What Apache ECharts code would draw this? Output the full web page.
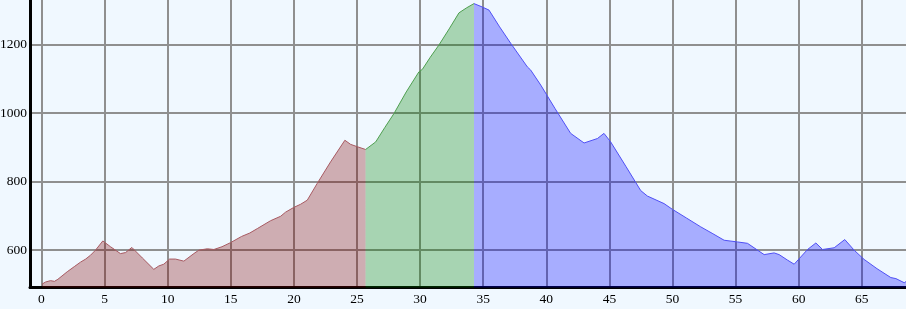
<!DOCTYPE html>
<html>
<head>
<meta charset="utf-8">
<script src="https://cdn.jsdelivr.net/npm/echarts@6/dist/echarts.min.js"></script>
<style>
html,body{margin:0;padding:0;background:#f0f8ff;}
#c{width:906px;height:309px;}
</style>
</head>
<body>
<div id="c"></div>
<script>
// Distance (km) and elevation (m) for each coloured segment
var redKm   = [0.05, 0.32, 0.71, 1.03, 1.3, 2.04, 2.6, 3.09, 3.5, 3.88, 4.28, 4.86, 5.47, 6.26, 6.66, 7.16, 8.0, 8.90, 9.30, 9.69, 10.15, 10.62, 11.28, 12.07, 12.47, 13.14, 13.66, 14.3, 14.98, 15.85, 16.5, 17.10, 18.15, 18.95, 19.34, 20.0, 20.53, 21.06, 21.85, 22.91, 24.04, 24.49, 25.03, 25.68];
var redElev = [501, 507, 511, 509, 515, 537, 552, 565, 574, 585, 600, 627, 610, 590, 593, 608, 577, 544, 554, 559, 574, 574, 568, 590, 600, 604, 602, 610, 622, 640, 650, 663, 686, 699, 711, 725, 734, 746, 795, 858, 921, 909, 902, 894];
var greenKm   = [25.68, 26.48, 27.2, 27.93, 28.9, 29.91, 30.18, 30.8, 31.49, 32.3, 33.08, 33.7, 34.27];
var greenElev = [894, 916, 958, 999, 1062, 1121, 1128, 1163, 1199, 1246, 1293, 1308, 1320];
var blueKm   = [34.27, 34.93, 35.46, 36.3, 37.18, 38.5, 38.76, 39.56, 40.7, 41.93, 42.99, 44.05, 44.57, 45.1, 46.3, 47.48, 48.01, 49.33, 50.0, 51.1, 52.24, 53.2, 54.09, 55.15, 55.94, 57.26, 58.05, 58.45, 59.11, 59.64, 60.70, 61.36, 61.89, 62.81, 63.65, 64.39, 65.18, 66.2, 67.30, 67.70, 68.36, 68.57];
var blueElev = [1320, 1310, 1301, 1252, 1204, 1135, 1126, 1082, 1013, 941, 913, 926, 941, 916, 845, 774, 758, 736, 719, 694, 668, 648, 629, 624, 620, 587, 592, 587, 571, 559, 602, 621, 602, 607, 631, 600, 573, 546, 520, 517, 505, 510];

var xTickStep = 5;
var yTickStep = 200;

function pairs(xs, ys){ return xs.map(function(x,i){ return [x, ys[i]]; }); }

var chart = echarts.init(document.getElementById('c'), null, {renderer:'canvas'});
var font = '"Liberation Serif", "Times New Roman", serif';
function mkSeries(name, xs, ys, line, fill){
  return {
    name: name, type: 'line', data: pairs(xs, ys), showSymbol: false, smooth: false,
    lineStyle: {color: line, width: 1},
    areaStyle: {color: fill, opacity: 1},
    itemStyle: {color: line},
    z: 2
  };
}
function keepMultiples(step){
  return function(v){ var r = Math.round(v); return (Math.abs(v - r) < 1e-6 && r % step === 0) ? String(r) : ''; };
}
chart.setOption({
  backgroundColor: '#f0f8ff',
  animation: false,
  grid: {left: 30, right: 0, top: 0, bottom: 21.5, containLabel: false, outerBoundsMode: 'none'},
  xAxis: {
    type: 'value', min: -0.91, max: 68.5, splitNumber: 14,
    axisLine: {show: true, onZero: false, lineStyle: {color: '#000', width: 3}},
    axisTick: {show: false},
    splitLine: {show: true, showMinLine: false, showMaxLine: false, lineStyle: {color: '#8f8f8f', width: 2}},
    axisLabel: {color: '#000', fontFamily: font, fontSize: 13.5, margin: 5, formatter: keepMultiples(xTickStep)}
  },
  yAxis: {
    type: 'value', min: 491, max: 1330.5, splitNumber: 4,
    axisLine: {show: true, onZero: false, lineStyle: {color: '#000', width: 3}},
    axisTick: {show: false},
    splitLine: {show: true, showMinLine: false, showMaxLine: false, lineStyle: {color: '#8f8f8f', width: 2}},
    axisLabel: {color: '#000', fontFamily: font, fontSize: 13.5, margin: 3, formatter: keepMultiples(yTickStep)}
  },
  series: [
    mkSeries('red', redKm, redElev, '#a85a62', 'rgba(128,0,0,0.3)'),
    mkSeries('green', greenKm, greenElev, '#4f9f50', 'rgba(0,128,0,0.3)'),
    mkSeries('blue', blueKm, blueElev, '#5050f5', 'rgba(0,0,255,0.3)')
  ]
});
</script>
</body>
</html>
